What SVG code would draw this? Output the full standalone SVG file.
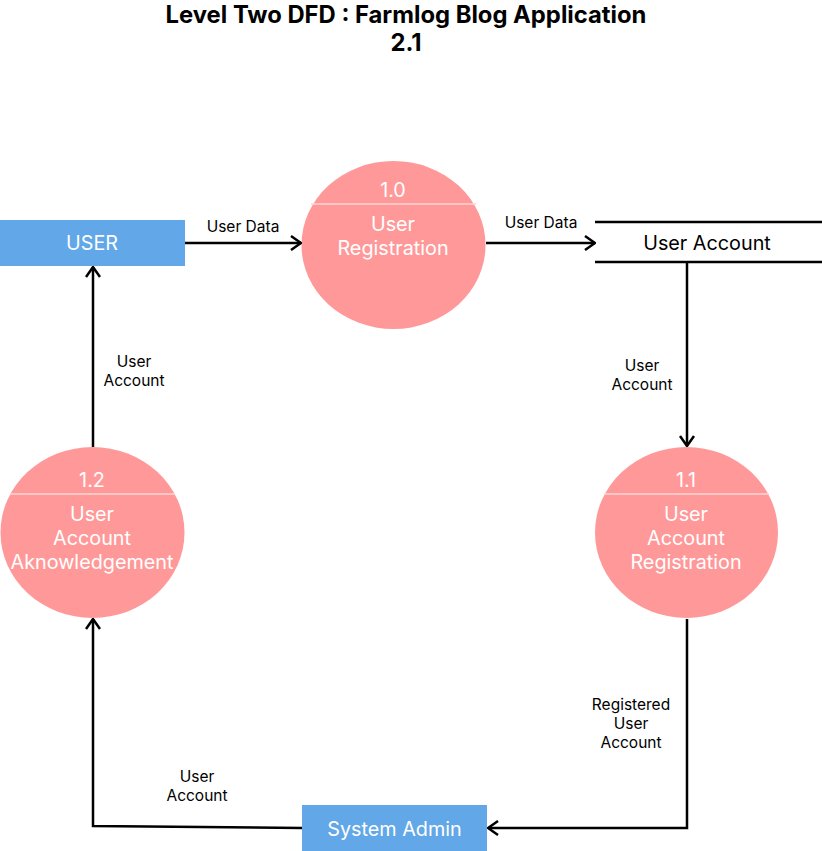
<svg xmlns="http://www.w3.org/2000/svg" width="822" height="851" viewBox="0 0 822 851">
<style>
text{font-family:Inter,"Liberation Sans",sans-serif;text-anchor:middle;dominant-baseline:central}
.title{font-size:23.8px;font-weight:bold;fill:#000}
.ent{fill:#62a7e7}
.proc{fill:#ff9999}
.wt{fill:#fff;font-size:19.8px}
.div{stroke:#ffd6d6;stroke-width:1.5}
.store{stroke:#000;stroke-width:2.5}
.lbl{font-size:15.5px;fill:#000}
.edge{fill:none;stroke:#000;stroke-width:2.5}
</style>
<defs>
<marker id="arr" viewBox="0 0 12 16" refX="11" refY="8" markerWidth="12" markerHeight="16" markerUnits="userSpaceOnUse" orient="auto">
<path d="M1,1 L11,8 L1,15" fill="none" stroke="#000" stroke-width="2.5"/>
</marker>
</defs>
<rect width="822" height="851" fill="#fff"/>
<text class="title" x="406" y="14">Level Two DFD : Farmlog Blog Application</text>
<text class="title" x="406" y="42">2.1</text>

<g id="user">
<rect class="ent" x="0" y="220" width="185" height="46"/>
<text class="wt" x="92" y="243">USER</text>
</g>
<g id="p10">
<ellipse class="proc" cx="393.5" cy="245" rx="92" ry="84"/>
<line class="div" x1="311" y1="204" x2="476" y2="204"/>
<text class="wt" x="393" y="190">1.0</text>
<text class="wt" x="393" y="224">User</text>
<text class="wt" x="393" y="248">Registration</text>
</g>
<g id="store">
<line class="store" x1="595" y1="222" x2="822" y2="222"/>
<line class="store" x1="595" y1="262" x2="822" y2="262"/>
<text x="707" y="243" style="font-size:19.8px;fill:#000">User Account</text>
</g>
<g id="p11">
<ellipse class="proc" cx="686.5" cy="532.5" rx="91.5" ry="85.5"/>
<line class="div" x1="604" y1="494" x2="769" y2="494"/>
<text class="wt" x="686" y="480">1.1</text>
<text class="wt" x="686" y="514">User</text>
<text class="wt" x="686" y="538">Account</text>
<text class="wt" x="686" y="562">Registration</text>
</g>
<g id="p12">
<ellipse class="proc" cx="92.5" cy="532.5" rx="92" ry="85.5"/>
<line class="div" x1="10" y1="494" x2="175" y2="494"/>
<text class="wt" x="92" y="480">1.2</text>
<text class="wt" x="92" y="514">User</text>
<text class="wt" x="92" y="538">Account</text>
<text class="wt" x="92" y="562">Aknowledgement</text>
</g>
<g id="admin">
<rect class="ent" x="302" y="805" width="185" height="46"/>
<text class="wt" x="394.5" y="829">System Admin</text>
</g>

<g id="connectors">
<path class="edge" d="M185,243 L301,243" marker-end="url(#arr)"/>
<path class="edge" d="M486,243 L595,243" marker-end="url(#arr)"/>
<path class="edge" d="M687,262 L687,446" marker-end="url(#arr)"/>
<path class="edge" d="M687,619 L687,828 L488,828" marker-end="url(#arr)"/>
<path class="edge" d="M302,828 L93,826 L93,619" marker-end="url(#arr)"/>
<path class="edge" d="M93,447 L93,267" marker-end="url(#arr)"/>
<text class="lbl" x="243" y="226">User Data</text>
<text class="lbl" x="541" y="222">User Data</text>
<text class="lbl" x="642" y="365">User</text>
<text class="lbl" x="642" y="384">Account</text>
<text class="lbl" x="631" y="704">Registered</text>
<text class="lbl" x="631" y="723">User</text>
<text class="lbl" x="631" y="742">Account</text>
<text class="lbl" x="197" y="776">User</text>
<text class="lbl" x="197" y="795">Account</text>
<text class="lbl" x="134" y="361">User</text>
<text class="lbl" x="134" y="380">Account</text>
</g>
</svg>
